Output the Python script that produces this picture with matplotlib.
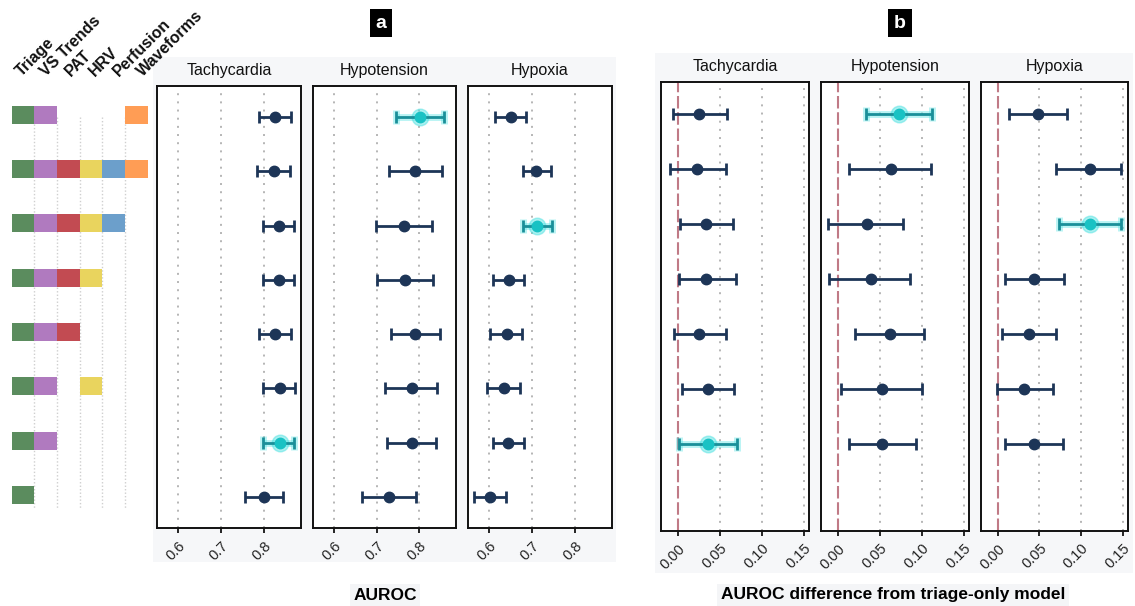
import matplotlib
matplotlib.use("Agg")
import matplotlib.pyplot as plt
from matplotlib.patches import Rectangle
import numpy as np

plt.rcParams['font.family'] = ['Liberation Sans', 'DejaVu Sans']

W, H = 1135, 606

# feature sets per model row (top to bottom)
features = ['Triage', 'VS Trends', 'PAT', 'HRV', 'Perfusion', 'Waveforms']
feat_colors = ['#5B8C5E', '#B07ABF', '#C24B52', '#E9D45E', '#6C9FCB', '#FF9D55']
model_sets = [
    [0, 1, 5],
    [0, 1, 2, 3, 4, 5],
    [0, 1, 2, 3, 4],
    [0, 1, 2, 3],
    [0, 1, 2],
    [0, 1, 3],
    [0, 1],
    [0],
]
outcomes = ['Tachycardia', 'Hypotension', 'Hypoxia']
best_row = {'Tachycardia': 7, 'Hypotension': 1, 'Hypoxia': 3}

# panel a: AUROC (estimate, lower, upper), rows 1..8
auroc_est = {
    'Tachycardia': [0.826, 0.824, 0.835, 0.835, 0.826, 0.837, 0.836, 0.801],
    'Hypotension': [0.802, 0.791, 0.764, 0.767, 0.791, 0.782, 0.783, 0.729],
    'Hypoxia':     [0.650, 0.710, 0.712, 0.646, 0.641, 0.634, 0.645, 0.602],
}
auroc_lo = {
    'Tachycardia': [0.788, 0.784, 0.798, 0.798, 0.788, 0.798, 0.798, 0.756],
    'Hypotension': [0.746, 0.729, 0.698, 0.701, 0.734, 0.719, 0.725, 0.666],
    'Hypoxia':     [0.614, 0.678, 0.678, 0.609, 0.603, 0.596, 0.609, 0.564],
}
auroc_hi = {
    'Tachycardia': [0.863, 0.861, 0.870, 0.870, 0.863, 0.872, 0.870, 0.843],
    'Hypotension': [0.857, 0.853, 0.829, 0.831, 0.848, 0.841, 0.839, 0.793],
    'Hypoxia':     [0.685, 0.743, 0.747, 0.682, 0.677, 0.671, 0.681, 0.640],
}

# panel b: difference from triage-only model, rows 1..7
diff_est = {
    'Tachycardia': [0.025, 0.023, 0.034, 0.034, 0.025, 0.036, 0.036],
    'Hypotension': [0.073, 0.063, 0.035, 0.039, 0.062, 0.053, 0.053],
    'Hypoxia':     [0.048, 0.110, 0.111, 0.044, 0.038, 0.032, 0.044],
}
diff_lo = {
    'Tachycardia': [-0.006, -0.009, 0.003, 0.001, -0.004, 0.005, 0.002],
    'Hypotension': [0.034, 0.013, -0.012, -0.010, 0.021, 0.004, 0.013],
    'Hypoxia':     [0.014, 0.070, 0.074, 0.009, 0.005, -0.001, 0.009],
}
diff_hi = {
    'Tachycardia': [0.059, 0.057, 0.066, 0.069, 0.057, 0.067, 0.070],
    'Hypotension': [0.112, 0.111, 0.078, 0.086, 0.103, 0.100, 0.093],
    'Hypoxia':     [0.083, 0.148, 0.148, 0.079, 0.070, 0.066, 0.078],
}

navy = '#1D3557'
teal = '#1A8F99'
cyan = '#19C2C4'
glow = '#55E3E3'

fig = plt.figure(figsize=(W / 100, H / 100), dpi=100)


def px_axes(l, t, r, b):
    return fig.add_axes([l / W, 1 - b / H, (r - l) / W, (b - t) / H])


def px_rect(l, t, r, b, color):
    fig.add_artist(Rectangle((l / W, 1 - b / H), (r - l) / W, (b - t) / H,
                             transform=fig.transFigure, facecolor=color,
                             edgecolor='none', zorder=0))


# light grey panel backgrounds
px_rect(153, 57, 616, 562, '#F6F7F9')
px_rect(655, 53, 1133, 573, '#F6F7F9')


def draw_panel(ax, name, est, lo, hi, xlim, ticks, ticklabels, ylim, diff=False):
    est = np.array(est)
    lo = np.array(lo)
    hi = np.array(hi)
    rows = np.arange(1, len(est) + 1)
    ax.set_facecolor('white')
    ax.set_xlim(*xlim)
    ax.set_ylim(*ylim)
    for t in ticks:
        if diff and t == 0:
            continue
        ax.axvline(t, color='#B5B5B5', linestyle=(0, (1, 3.2)), linewidth=1.4, zorder=1)
    if diff:
        ax.axvline(0, color='#C07A86', linestyle=(0, (6, 1.8)), linewidth=1.5, zorder=1)
    b = best_row[name]
    normal = rows != b
    ax.errorbar(est[normal], rows[normal],
                xerr=[est[normal] - lo[normal], hi[normal] - est[normal]],
                fmt='o', color=navy, ecolor=navy, elinewidth=2, capsize=4.5,
                capthick=2, markersize=7.5, zorder=3)
    i = b - 1
    ax.errorbar([est[i]], [b], xerr=[[est[i] - lo[i]], [hi[i] - est[i]]],
                fmt='none', ecolor=glow, elinewidth=5, capsize=5,
                capthick=5, alpha=0.4, zorder=2)
    ax.plot([est[i]], [b], 'o', color=glow, markersize=12, alpha=0.5, zorder=2)
    ax.errorbar([est[i]], [b], xerr=[[est[i] - lo[i]], [hi[i] - est[i]]],
                fmt='o', color=cyan, ecolor=teal, elinewidth=2, capsize=4.5,
                capthick=2, markersize=7.5, zorder=3)
    ax.set_xticks(ticks)
    ax.set_xticklabels(ticklabels, rotation=45, ha='right', va='top',
                       rotation_mode='anchor', fontsize=10.5, color='#222222')
    ax.set_yticks([])
    ax.tick_params(axis='x', length=3.5, width=1.2, color='black', pad=4)
    for s in ax.spines.values():
        s.set_linewidth(1.4)
        s.set_color('#111111')
    ax.set_title(name, fontsize=11.5, pad=8, color='#111111')


# panel a
a_boxes = [(157, 301), (313, 456), (468, 612)]
for (l, r), name in zip(a_boxes, outcomes):
    ax = px_axes(l, 86, r, 528)
    draw_panel(ax, name, auroc_est[name], auroc_lo[name], auroc_hi[name],
               (0.551, 0.886), [0.6, 0.7, 0.8], ['0.6', '0.7', '0.8'],
               (8.57, 0.43))

# panel b
b_boxes = [(661, 809), (821, 969), (981, 1128)]
for (l, r), name in zip(b_boxes, outcomes):
    ax = px_axes(l, 82, r, 531)
    draw_panel(ax, name, diff_est[name], diff_lo[name], diff_hi[name],
               (-0.0198, 0.156), [0.0, 0.05, 0.10, 0.15],
               ['0.00', '0.05', '0.10', '0.15'], (8.58, 0.42), diff=True)

# feature matrix
mx = px_axes(11.7, 86, 147.7, 528)
mx.set_xlim(0, 6)
mx.set_ylim(8.57, 0.43)
mx.axis('off')
mx.vlines([1, 2, 3, 4, 5], 1, 8.2, colors='#CFCFCF', linestyles=(0, (1, 1.5)),
          linewidth=1, zorder=0)
for r, cols in enumerate(model_sets, start=1):
    for c in cols:
        mx.barh(r - 0.04, 1, left=c, height=0.33, color=feat_colors[c], zorder=2)
for c, f in enumerate(features):
    mx.text(0.45 + c * 1.07, 1.02, f, transform=mx.get_xaxis_transform(),
            rotation=45, rotation_mode='anchor', ha='left', va='baseline',
            fontsize=11.5, fontweight='bold', color='#111111')

# panel letters
for x, letter in [(381, 'a'), (900, 'b')]:
    fig.text(x / W, 1 - 23 / H, letter, color='white', fontsize=14,
             fontweight='bold', ha='center', va='center',
             bbox=dict(facecolor='black', edgecolor='none', boxstyle='square,pad=0.3'))

# axis titles
fig.text(385 / W, 1 - 595 / H, 'AUROC', fontsize=12.5, fontweight='bold',
         ha='center', va='center',
         bbox=dict(facecolor='#F4F5F7', edgecolor='none', boxstyle='square,pad=0.2'))
fig.text(893 / W, 1 - 595 / H, 'AUROC difference from triage-only model',
         fontsize=12.5, fontweight='bold', ha='center', va='center',
         bbox=dict(facecolor='#F4F5F7', edgecolor='none', boxstyle='square,pad=0.2'))

fig.savefig('out.png', dpi=100)
